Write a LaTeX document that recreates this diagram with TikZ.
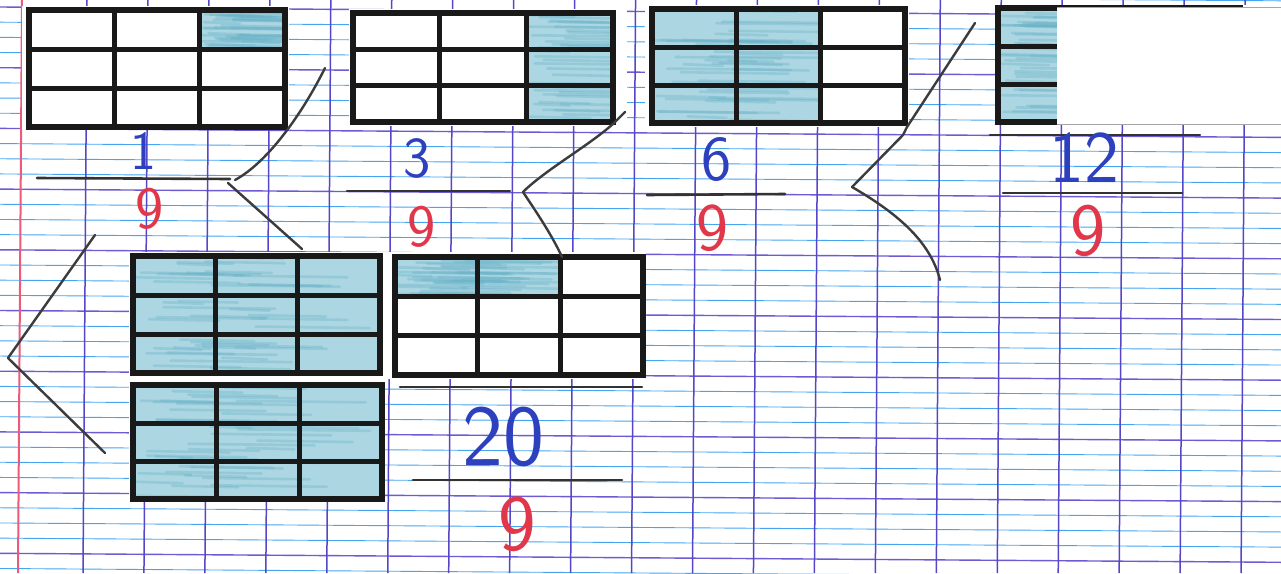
\documentclass[tikz,border=0pt]{standalone}
\definecolor{vline}{RGB}{85,70,200}
\definecolor{hpurple}{RGB}{110,90,210}
\definecolor{hblue}{RGB}{70,165,240}
\definecolor{margincol}{RGB}{235,90,120}
\definecolor{pencil}{RGB}{172,214,226}
\definecolor{pencildark}{RGB}{105,178,200}
\definecolor{penblue}{RGB}{45,65,190}
\definecolor{penred}{RGB}{225,55,75}
\definecolor{conncol}{RGB}{60,60,60}
\newcommand\cellgrid[5]{%
  \pgfmathsetmacro\gw{(#3-#1)/3}%
  \pgfmathsetmacro\gh{(#4-#2)/3}%
  \begin{scope}[shift={(#1,#2)},x=\gw pt,y=-\gh pt]
    #5
    \draw[gridline] (1,0)--(1,3) (2,0)--(2,3) (0,1)--(3,1) (0,2)--(3,2);
    \draw[frame] (0,0) rectangle (3,3);
  \end{scope}}
% crayon shading of cells, in cell units
\newcommand\crayon[4]{%
  \fill[pencil] (#1,#2) rectangle (#3,#4);
  \begin{scope}
    \clip (#1,#2) rectangle (#3,#4);
    \foreach \i in {1,...,40}{
      \pgfmathsetmacro\ry{#2+rnd*(#4-#2)}
      \pgfmathsetmacro\rx{#1+rnd*(#3-#1)*0.5}
      \pgfmathsetmacro\rl{0.4+rnd*1.2}
      \draw[line width=2.6pt, pencildark, opacity=0.35, line cap=round]
        (\rx,\ry) -- ({\rx+\rl},{\ry+0.04});
    }
  \end{scope}}
\newcommand\dig[1]{\sffamily\fontsize{#1}{#1}\selectfont}
\begin{document}
\begin{tikzpicture}[x=1pt,y=-1pt,
  gridline/.style={line width=5pt, black!90},
  frame/.style={line width=6pt, line join=miter, black!90},
  bar/.style={line width=2.6pt, black!80, line cap=round},
  conn/.style={line width=2.4pt, draw=conncol, line cap=round, line join=round},
  thinrule/.style={line width=0.9pt, hblue},
  thickrule/.style={line width=1.4pt, hpurple},
  vrule/.style={line width=1.5pt, vline},
  backing/.style={fill=white},
  pen/.style={inner sep=0pt, text=penblue},
  redpen/.style={inner sep=0pt, text=penred}]
\pgfmathsetseed{7}
\useasboundingbox (0,0) rectangle (1281,573);
\fill[white] (0,0) rectangle (1281,573);
% ---- Seyes ruling ----
\begin{scope}
\clip (0,0) rectangle (1281,573);
\foreach \k in {-1,...,9}{
  \pgfmathsetmacro\yy{7+60.7*\k}
  \foreach \j in {1,2,3}{
    \draw[thinrule] (0,{\yy+15.175*\j}) -- (1281,{\yy+15.175*\j+9});
  }
  \draw[thickrule] (0,\yy) -- (1281,\yy+9);
}
\foreach \k in {0,...,19}{
  \pgfmathsetmacro\xx{87+60.95*\k}
  \draw[vrule] (\xx,0) -- (\xx-4,573);
}
\draw[line width=2pt, margincol] (22,0) -- (18,573);
\end{scope}
% ---- white pasted papers ----
\fill[backing] (22,6) rectangle (289,130);
\fill[backing] (349,9) rectangle (627,126);
\fill[backing] (645,5) rectangle (909,127);
\fill[backing] (995,5) rectangle (1281,125);
\fill[backing] (129,252) rectangle (646,379);
\fill[backing] (129,379) rectangle (385,502);
% ---- grids ----
\cellgrid{29}{10}{285}{127}{\crayon{2}{0}{3}{1}}
\cellgrid{353}{13}{613}{122}{\crayon{2}{0}{3}{3}}
\cellgrid{652}{9}{905}{123}{\crayon{0}{0}{2}{3}}
\cellgrid{998}{8}{1240}{122}{\crayon{0}{0}{1}{3}}
\fill[white] (1057,7) rectangle (1281,124);
\draw[line width=0.6pt, black!35] (1057,7) -- (1281,7) (1057,124) -- (1281,124);
\cellgrid{133}{256}{380}{373}{\crayon{0}{0}{3}{3}}
\cellgrid{133}{385}{382}{499}{\crayon{0}{0}{3}{3}}
\cellgrid{395}{257}{643}{375}{\crayon{0}{0}{2}{1}}
% ---- fraction bars ----
\draw[bar] (37,178) -- (230,179);
\draw[bar] (347,191) -- (510,191);
\draw[bar] (647,195) -- (785,194);
\draw[bar] (990,135) -- (1200,135);
\draw[bar] (1003,193) -- (1182,193);
\draw[bar] (400,387) -- (642,387);
\draw[bar] (413,480) -- (622,480);
% ---- numbers ----
\node[pen] (n1) at (143,151) {\dig{55}1};
\node[redpen] (d1) at (150,209) {\dig{60}9};
\node[pen] (n2) at (417,158) {\dig{58}3};
\node[redpen] (d2) at (422,227) {\dig{60}9};
\node[pen] (n3) at (717,160) {\dig{64}6};
\node[redpen] (d3) at (712,228) {\dig{68}9};
\node[pen] (n4) at (1084,158) {\dig{74}12};
\node[redpen] (d4) at (1088,231) {\dig{75}9};
\node[pen] (n5) at (503,437) {\dig{87}20};
\node[redpen] (d5) at (517,524) {\dig{80}9};
% ---- connectors ----
\coordinate (a1) at (235,180);
\coordinate (a2) at (325,68);
\coordinate (b1) at (228,183);
\coordinate (b2) at (302,249);
\draw[conn] (a1) .. controls (268,162) and (302,114) .. (a2);
\draw[conn] (b1) -- (b2);
\coordinate (c1) at (625,112);
\coordinate (c2) at (614,123);
\coordinate (c3) at (523,192);
\coordinate (c4) at (562,257);
\draw[conn] (c1) -- (c2) .. controls (590,145) and (545,170) .. (c3) .. controls (535,210) and (552,235) .. (c4);
\coordinate (e1) at (975,23);
\coordinate (e2) at (907,127);
\coordinate (e3) at (903,135);
\coordinate (e4) at (852,187);
\coordinate (e5) at (940,280);
\draw[conn] (e1) -- (e2) -- (e3) -- (e4) .. controls (895,212) and (930,240) .. (e5);
\coordinate (f1) at (95,235);
\coordinate (f2) at (8,358);
\coordinate (f3) at (105,453);
\draw[conn] (f1) -- (f2) -- (f3);
\end{tikzpicture}
\end{document}
